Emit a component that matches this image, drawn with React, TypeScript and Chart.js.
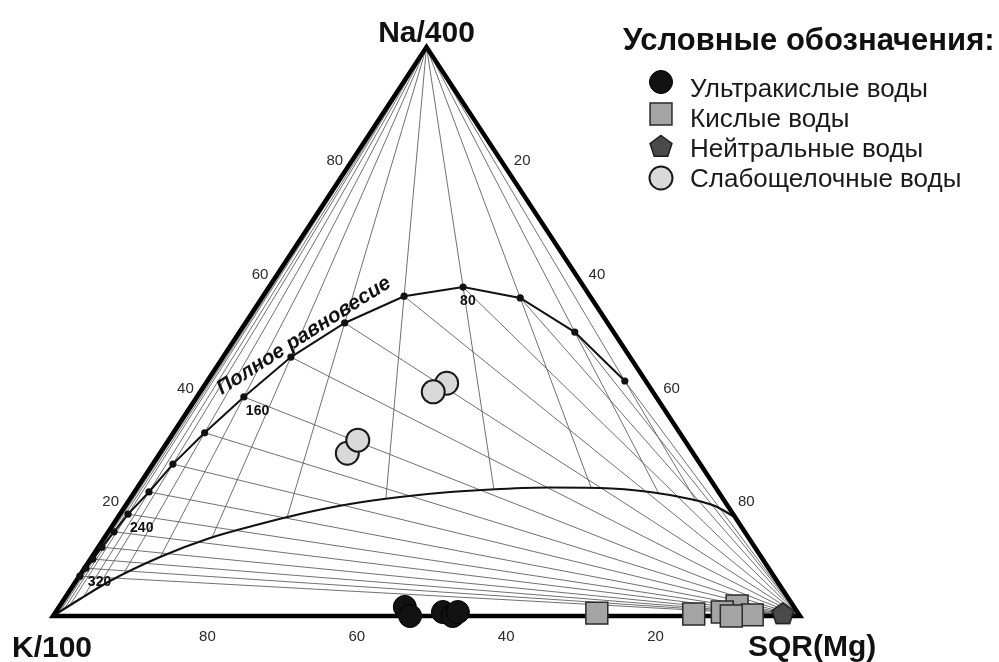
import React, { useEffect, useRef } from 'react';
import { Chart, registerables } from 'chart.js';

Chart.register(...registerables);

const FONT = "'Liberation Sans', Arial, Helvetica, sans-serif";

// Compositions in ternary percent: [Na/400 %, SQR(Mg) %]; K/100 % = 100 - Na - Mg
const eqTemps = [20, 40, 60, 80, 100, 120, 140, 160, 180, 200, 220, 240, 260, 280, 300, 320, 340];
const eqNa = [41.3, 49.9, 55.9, 57.8, 56.2, 51.5, 45.5, 38.5, 32.2, 26.7, 21.8, 17.9, 14.8, 12.1, 10.0, 8.4, 7.0];
const eqMg = [55.9, 44.9, 34.6, 26.0, 18.9, 13.3, 9.1, 6.3, 4.2, 2.7, 1.95, 1.1, 0.77, 0.5, 0.35, 0.2, 0.1];
const labeledTemps = [80, 160, 240, 320];

const partialNa = [0, 2.99, 6.15, 10.37, 13.71, 16.17, 17.93, 19.68, 20.91, 21.79, 22.32, 22.58, 22.5, 21.79, 20.56, 19.33, 17.57];
const partialMg = [0, 2.12, 4.55, 9.14, 14.17, 19.63, 24.11, 29.92, 35.99, 42.25, 48.68, 55.24, 61.98, 69.02, 74.99, 78.95, 82.24];

const ultraAcidNa = [1.6, 0, 0.7, 0, 0.7];
const ultraAcidMg = [46.3, 47.8, 51.85, 53.5, 53.85];
const acidNa = [0.5, 0.35, 1.75, 0.7, 0.2, 0];
const acidMg = [72.55, 85.6, 90.7, 89.25, 93.5, 90.8];
const neutralNa = [0.5];
const neutralMg = [97.45];
const alkalineNa = [40.9, 39.4, 28.6, 30.9];
const alkalineMg = [32.25, 31.2, 25.1, 25.35];

const edgeTicks = [20, 40, 60, 80];
const vertexLabels = ['Na/400', 'K/100', 'SQR(Mg)'];
const curveLabel = 'Полное равновесие';
const legendTitle = 'Условные обозначения:';
const legendLabels = ['Ультракислые воды', 'Кислые воды', 'Нейтральные воды', 'Слабощелочные воды'];

type P = { x: number; y: number };
const toXY = (na: number, mg: number): P => ({ x: mg + na / 2, y: na });
const pts = (na: number[], mg: number[]) => na.map((v, i) => toXY(v, mg[i]));

const APEX_NA = toXY(100, 0);
const APEX_K = toXY(0, 0);
const APEX_MG = toXY(0, 100);

function rayToCurve(a: P, d: P, curve: P[]): P {
  const rx = d.x - a.x, ry = d.y - a.y;
  let best = Infinity;
  for (let i = 0; i < curve.length - 1; i++) {
    const b = curve[i], c = curve[i + 1];
    const sx = c.x - b.x, sy = c.y - b.y;
    const den = rx * sy - ry * sx;
    if (Math.abs(den) < 1e-12) continue;
    const t = ((b.x - a.x) * sy - (b.y - a.y) * sx) / den;
    const s = ((b.x - a.x) * ry - (b.y - a.y) * rx) / den;
    if (t >= 1 - 1e-9 && s >= -1e-9 && s <= 1 + 1e-9 && t < best) best = t;
  }
  if (!isFinite(best)) best = (0 - a.y) / ry;
  return { x: a.x + best * rx, y: a.y + best * ry };
}

function drawPentagonPath(g: CanvasRenderingContext2D, cx: number, cy: number, R: number) {
  g.beginPath();
  for (let i = 0; i < 5; i++) {
    const ang = -Math.PI / 2 + (i * 2 * Math.PI) / 5;
    const x = cx + R * Math.cos(ang), y = cy + R * Math.sin(ang);
    if (i === 0) g.moveTo(x, y);
    else g.lineTo(x, y);
  }
  g.closePath();
}

function makePentagon(R: number, fill: string, stroke: string, lw: number) {
  const size = Math.ceil(R * 2 + lw * 2 + 2);
  const c = document.createElement('canvas');
  c.width = size;
  c.height = size;
  const g = c.getContext('2d')!;
  drawPentagonPath(g, size / 2, size / 2 + R * 0.1, R);
  g.fillStyle = fill;
  g.fill();
  g.lineWidth = lw;
  g.strokeStyle = stroke;
  g.stroke();
  return c;
}

const ULTRA = { fill: '#121212', stroke: '#000', lw: 1, r: 11.5 };
const ACID = { fill: '#a4a4a4', stroke: '#2a2a2a', lw: 1.5, r: 15.5 };
const NEUTRAL = { fill: '#4a4a4a', stroke: '#1c1c1c', lw: 1.5, R: 11.5 };
const ALK = { fill: '#d9d9d9', stroke: '#1a1a1a', lw: 2, r: 11.5 };

export default function App() {
  const ref = useRef<HTMLCanvasElement>(null);

  useEffect(() => {
    document.body.style.margin = '0';
    const canvas = ref.current!;
    const eq = pts(eqNa, eqMg);
    const partial = pts(partialNa, partialMg);
    const pentagon = makePentagon(NEUTRAL.R, NEUTRAL.fill, NEUTRAL.stroke, NEUTRAL.lw);

    const common = { clip: false as any, showLine: true, pointRadius: 0, pointHoverRadius: 0 };
    const thin = { ...common, borderColor: '#606060', borderWidth: 0.9, order: 5 };

    const datasets: any[] = [];
    // Na/K isotherms: from Mg apex to equilibrium points
    eq.forEach((p) => datasets.push({ ...thin, data: [APEX_MG, p] }));
    // K/Mg isotherms: from Na apex through equilibrium points to the partial-equilibrium curve
    eq.forEach((p) => datasets.push({ ...thin, data: [APEX_NA, rayToCurve(APEX_NA, p, partial)] }));

    datasets.push({ ...common, order: 4, data: partial, borderColor: '#111', borderWidth: 2.2, cubicInterpolationMode: 'monotone' });
    datasets.push({ ...common, order: 4, data: eq, borderColor: '#111', borderWidth: 2 });
    datasets.push({
      ...common, order: 3, data: [APEX_K, APEX_MG, APEX_NA, APEX_K, APEX_MG],
      borderColor: '#000', borderWidth: 4.5, borderJoinStyle: 'miter', borderCapStyle: 'butt',
    });
    datasets.push({ clip: false, order: 2, data: eq, showLine: false, pointRadius: 3.6, pointBackgroundColor: '#111', pointBorderWidth: 0, pointHoverRadius: 3.6 });

    datasets.push({ clip: false, order: 1, label: legendLabels[0], data: pts(ultraAcidNa, ultraAcidMg), pointStyle: 'circle', pointRadius: ULTRA.r, pointHoverRadius: ULTRA.r, pointBackgroundColor: ULTRA.fill, pointBorderColor: ULTRA.stroke, pointBorderWidth: ULTRA.lw });
    datasets.push({ clip: false, order: 1, label: legendLabels[1], data: pts(acidNa, acidMg), pointStyle: 'rect', pointRadius: ACID.r, pointHoverRadius: ACID.r, pointBackgroundColor: ACID.fill, pointBorderColor: ACID.stroke, pointBorderWidth: ACID.lw });
    datasets.push({ clip: false, order: 0, label: legendLabels[2], data: pts(neutralNa, neutralMg), pointStyle: pentagon, pointRadius: 12, pointHoverRadius: 12 });
    datasets.push({ clip: false, order: 1, label: legendLabels[3], data: pts(alkalineNa, alkalineMg), pointStyle: 'circle', pointRadius: ALK.r, pointHoverRadius: ALK.r, pointBackgroundColor: ALK.fill, pointBorderColor: ALK.stroke, pointBorderWidth: ALK.lw });

    const overlay = {
      id: 'overlay',
      afterDatasetsDraw(chart: any) {
        const ctx: CanvasRenderingContext2D = chart.ctx;
        const sx = chart.scales.x, sy = chart.scales.y;
        const px = (na: number, mg: number): [number, number] => {
          const q = toXY(na, mg);
          return [sx.getPixelForValue(q.x), sy.getPixelForValue(q.y)];
        };
        ctx.save();
        // edge tick labels
        ctx.fillStyle = '#2a2a2a';
        ctx.font = `15px ${FONT}`;
        ctx.textAlign = 'center';
        ctx.textBaseline = 'middle';
        edgeTicks.forEach((v) => {
          let [x, y] = px(0, 100 - v);
          ctx.fillText(String(v), x + 5, y + 21);
          [x, y] = px(v, 0);
          ctx.fillText(String(v), x - 17, y);
          [x, y] = px(100 - v, v);
          ctx.fillText(String(v), x + 21, y);
        });
        // temperature labels
        ctx.fillStyle = '#111';
        ctx.font = `bold 14px ${FONT}`;
        ctx.textAlign = 'left';
        ctx.textBaseline = 'top';
        labeledTemps.forEach((t) => {
          const i = eqTemps.indexOf(t);
          const [x, y] = px(eqNa[i], eqMg[i]);
          ctx.fillText(String(t), t === 80 ? x - 3 : x + 2, y + 7);
        });
        // curve label
        {
          const i = eqTemps.indexOf(160);
          const [x, y] = px(eqNa[i], eqMg[i]);
          ctx.save();
          ctx.translate(x - 22, y - 2);
          ctx.rotate((-32.6 * Math.PI) / 180);
          ctx.font = `italic bold 20.5px ${FONT}`;
          ctx.textAlign = 'left';
          ctx.textBaseline = 'alphabetic';
          ctx.fillStyle = '#111';
          ctx.fillText(curveLabel, 0, 0);
          ctx.restore();
        }
        // vertex labels
        ctx.fillStyle = '#111';
        ctx.font = `bold 30px ${FONT}`;
        ctx.textBaseline = 'alphabetic';
        {
          const [x, y] = px(100, 0);
          ctx.textAlign = 'center';
          ctx.fillText(vertexLabels[0], x, y - 5);
        }
        {
          const [x, y] = px(0, 0);
          ctx.textAlign = 'left';
          ctx.fillText(vertexLabels[1], x - 41, y + 41);
        }
        {
          const [x, y] = px(0, 100);
          ctx.textAlign = 'left';
          ctx.fillText(vertexLabels[2], x - 52, y + 40);
        }
        // legend
        ctx.textAlign = 'left';
        ctx.font = `bold 31px ${FONT}`;
        ctx.fillText(legendTitle, 623, 50);
        ctx.font = `26px ${FONT}`;
        legendLabels.forEach((lab, i) => {
          const my = 82 + 32 * i;
          const mx = 661;
          ctx.save();
          if (i === 0) {
            ctx.beginPath(); ctx.arc(mx, my, ULTRA.r, 0, Math.PI * 2);
            ctx.fillStyle = ULTRA.fill; ctx.fill();
            ctx.lineWidth = ULTRA.lw; ctx.strokeStyle = ULTRA.stroke; ctx.stroke();
          } else if (i === 1) {
            const h = ACID.r * Math.SQRT1_2;
            ctx.beginPath(); ctx.rect(mx - h, my - h, 2 * h, 2 * h);
            ctx.fillStyle = ACID.fill; ctx.fill();
            ctx.lineWidth = ACID.lw; ctx.strokeStyle = ACID.stroke; ctx.stroke();
          } else if (i === 2) {
            drawPentagonPath(ctx, mx, my + 1, NEUTRAL.R);
            ctx.fillStyle = NEUTRAL.fill; ctx.fill();
            ctx.lineWidth = NEUTRAL.lw; ctx.strokeStyle = NEUTRAL.stroke; ctx.stroke();
          } else {
            ctx.beginPath(); ctx.arc(mx, my, ALK.r, 0, Math.PI * 2);
            ctx.fillStyle = ALK.fill; ctx.fill();
            ctx.lineWidth = ALK.lw; ctx.strokeStyle = ALK.stroke; ctx.stroke();
          }
          ctx.restore();
          ctx.fillStyle = '#1a1a1a';
          ctx.fillText(lab, 690, 97 + 30 * i);
        });
        ctx.restore();
      },
    };

    const chart = new Chart(canvas, {
      type: 'scatter',
      data: { datasets },
      options: {
        animation: false,
        responsive: false,
        devicePixelRatio: 1,
        events: [],
        layout: { padding: { left: 53, right: 199, top: 47, bottom: 46 } },
        scales: {
          x: { type: 'linear', min: 0, max: 100, display: false },
          y: { type: 'linear', min: 0, max: 100, display: false },
        },
        plugins: { legend: { display: false }, tooltip: { enabled: false } },
      },
      plugins: [overlay],
    });
    return () => chart.destroy();
  }, []);

  return (
    <div style={{ width: 999, height: 662, background: '#fff' }}>
      <canvas ref={ref} width={999} height={662} style={{ display: 'block' }} />
    </div>
  );
}
